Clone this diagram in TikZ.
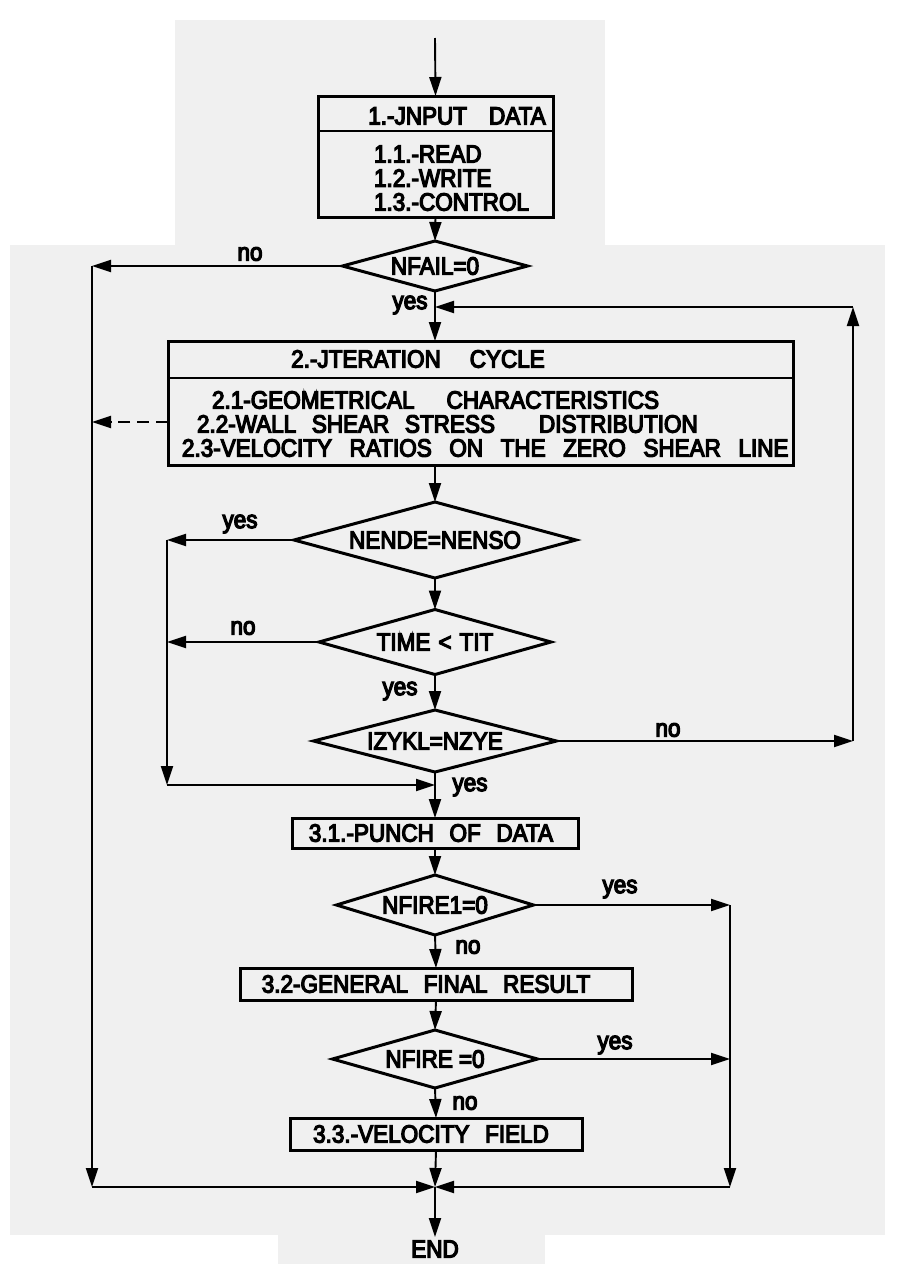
\documentclass[tikz,border=0pt]{standalone}
\usepackage{fontspec}
\setmainfont{Liberation Sans}[FakeStretch=0.9, FakeBold=5, WordSpace=2.5]
\usetikzlibrary{shapes.geometric,arrows.meta}
\begin{document}
\begin{tikzpicture}[x=1pt,y=-1pt,
  every node/.style={font=\fontsize{25}{28}\selectfont, inner sep=0pt, outer sep=0pt},
  box/.style={draw, line width=3pt, rectangle},
  dia/.style={draw, line width=3pt, diamond, inner sep=0pt},
  conn/.style={line width=1.9pt, -{Triangle[length=19pt,width=12pt]}},
  dconn/.style={conn, dash pattern=on 12pt off 7pt},
  rulel/.style={line width=2.2pt},
  txtl/.style={anchor=west},
]
% background
\fill[white] (0,0) rectangle (902,1264);
\fill[gray!12] (175,20) rectangle (605,245);
\fill[gray!12] (10,245) rectangle (885,1235);
\fill[gray!12] (278,1235) rectangle (545,1264);
\useasboundingbox (0,0) rectangle (902,1264);

% ---------- box 1
\node[box, minimum width=235pt, minimum height=121pt] (b1) at (435.5,156.5) {};
\draw[rulel] (318,131) -- (553,131);
\node (t1) at (457,116) {1.-JNPUT\hspace{22pt}DATA};
\node[txtl] (t11) at (374,154) {1.1.-READ};
\node[txtl] (t12) at (374,178) {1.2.-WRITE};
\node[txtl] (t13) at (374,202) {1.3.-CONTROL};

% ---------- decision NFAIL
\node[dia, minimum width=185pt, minimum height=50pt] (d1) at (435,266) {};
\node (d1t) at (d1) {NFAIL=0};

% ---------- box 2
\node[box, minimum width=625pt, minimum height=124pt] (b2) at (480.5,403) {};
\draw[rulel] (168,378) -- (793,378);
\node (t2) at (418,359) {2.-JTERATION\hspace{29pt}CYCLE};
\node[txtl] (t21) at (212,400) {2.1-GEOMETRICAL\hspace{32pt}CHARACTERISTICS};
\node[txtl] (t22) at (197,424) {2.2-WALL SHEAR STRESS\hspace{44pt}DISTRIBUTION};
\node[txtl] (t23) at (182,448) {\spaceskip=17.6pt\relax 2.3-VELOCITY RATIOS ON THE ZERO SHEAR LINE};

% ---------- decisions
\node[dia, minimum width=282pt, minimum height=76pt] (d2) at (435,540) {};
\node (d2t) at (d2) {NENDE=NENSO};
\node[dia, minimum width=232pt, minimum height=65pt] (d3) at (435,642) {};
\node (d3t) at (d3) {TIME\hspace{8pt}<\hspace{8pt}TIT};
\node[dia, minimum width=243pt, minimum height=62pt] (d4) at (435,741) {};
\node (d4t) at (d4) {IZYKL=NZYE};

% ---------- output boxes
\node[box, minimum width=286pt, minimum height=30pt] (b31) at (435,833) {};
\node (t31) at (431,833) {3.1.-PUNCH OF DATA};
\node[dia, minimum width=197pt, minimum height=60pt] (d5) at (435,905) {};
\node (d5t) at (d5) {NFIRE1=0};
\node[box, minimum width=392pt, minimum height=32pt] (b32) at (436,984) {};
\node (t32) at (426,984) {3.2-GENERAL FINAL RESULT};
\node[dia, minimum width=205pt, minimum height=58pt] (d6) at (435,1059) {};
\node (d6t) at (d6) {NFIRE\hspace{6pt}=0};
\node[box, minimum width=292pt, minimum height=32pt] (b33) at (436,1134) {};
\node (t33) at (431,1134) {3.3.-VELOCITY FIELD};
\node (endt) at (435,1249) {END};

% ---------- coordinates
\coordinate (top) at (435,38);
\coordinate (L1) at (92,266);
\coordinate (L2) at (92,1187);
\coordinate (LD) at (92,422);
\coordinate (BD) at (168,422);
\coordinate (J) at (435,1187);
\coordinate (E) at (435,1237);
\coordinate (R0) at (730,905);
\coordinate (R1) at (730,1059);
\coordinate (R2) at (730,1187);
\coordinate (M1) at (167,540);
\coordinate (M1b) at (167,642);
\coordinate (M2) at (167,785);
\coordinate (M3) at (435,785);
\coordinate (Q1) at (853,741);
\coordinate (Q2) at (853,307);
\coordinate (Q3) at (435,307);
\coordinate (B2n) at (435,341);
\coordinate (B2s) at (435,465);

% ---------- main flow
\draw[conn] (top) -- (b1.north);
\draw[conn] (b1.south) -- (d1.north);
\draw[conn] (d1.south) -- (B2n);
\draw[conn] (B2s) -- (d2.north);
\draw[conn] (d2.south) -- (d3.north);
\draw[conn] (d3.south) -- (d4.north);
\draw[conn] (d4.south) -- (b31.north);
\draw[conn] (b31.south) -- (d5.north);
\draw[conn] (d5.south) -- (b32.north);
\draw[conn] (b32.south) -- (d6.north);
\draw[conn] (d6.south) -- (b33.north);
\draw[conn] (b33.south) -- (J);
\draw[conn] (J) -- (E);

% ---------- left bypass
\draw[conn] (d1.west) -- (L1);
\draw[conn] (L1) -- (L2);
\draw[conn] (L2) -- (J);
\draw[dconn] (BD) -- (LD);

% ---------- inner left
\draw[conn] (d2.west) -- (M1);
\draw[conn] (d3.west) -- (M1b);
\draw[conn] (M1) -- (M2);
\draw[conn] (M2) -- (M3);

% ---------- loop back
\draw[conn] (d4.east) -- (Q1);
\draw[conn] (Q1) -- (Q2);
\draw[conn] (Q2) -- (Q3);

% ---------- right bypass
\draw[conn] (d5.east) -- (R0);
\draw[conn] (d6.east) -- (R1);
\draw[conn] (R0) -- (R2);
\draw[conn] (R2) -- (J);

% ---------- labels
\node (l1) at (250,254) {no};
\node (l2) at (410,305) {yes};
\node (l3) at (240,524) {yes};
\node (l4) at (243,628) {no};
\node (l5) at (400,691) {yes};
\node (l6) at (668,730) {no};
\node (l7) at (470,787) {yes};
\node (l8) at (620,889) {yes};
\node (l9) at (468,947) {no};
\node (l10) at (615,1045) {yes};
\node (l11) at (465,1103) {no};
\end{tikzpicture}
\end{document}
